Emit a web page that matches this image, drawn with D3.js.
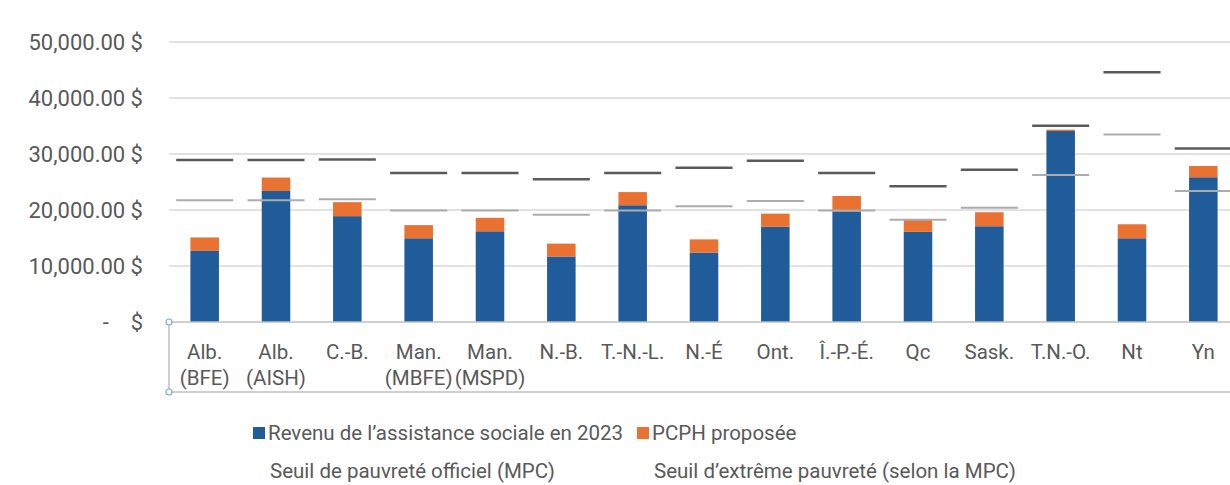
<!DOCTYPE html>
<html>
<head>
<meta charset="utf-8">
<script src="https://cdn.jsdelivr.net/npm/d3@7/dist/d3.min.js"></script>
<style>
  html, body { margin: 0; padding: 0; background: #fff; overflow: hidden; }
  svg { display: block; font-family: Roboto, "Noto Sans", sans-serif; }
</style>
</head>
<body>
<svg id="chart" width="1230" height="485"></svg>
<script>
const categories = [
  ["Alb.", "(BFE)"], ["Alb.", "(AISH)"], ["C.-B."], ["Man.", "(MBFE)"], ["Man.", "(MSPD)"],
  ["N.-B."], ["T.-N.-L."], ["N.-É"], ["Ont."], ["Î.-P.-É."], ["Qc"], ["Sask."], ["T.N.-O."], ["Nt"], ["Yn"]
];
const assistance2023 = [12700, 23400, 18900, 14950, 16200, 11700, 20850, 12400, 17000, 19750, 16100, 17100, 34100, 14950, 25850];
const pcph = [2400, 2400, 2500, 2350, 2400, 2300, 2350, 2350, 2350, 2750, 2300, 2500, 250, 2500, 2000];
const seuilOfficiel = [28950, 28950, 29000, 26600, 26600, 25500, 26600, 27550, 28800, 26600, 24250, 27200, 35050, 44600, 31000];
const seuilExtreme = [21750, 21750, 21900, 19900, 19900, 19150, 19900, 20650, 21600, 19900, 18250, 20400, 26250, 33500, 23400];
const yTicks = [0, 10000, 20000, 30000, 40000, 50000];
const legendBars = ["Revenu de l’assistance sociale en 2023", "PCPH proposée"];
const legendLines = ["Seuil de pauvreté officiel (MPC)", "Seuil d’extrême pauvreté (selon la MPC)"];

const colBlue = "#1f5c99", colOrange = "#e97132", colDark = "#5a5a5a", colLight = "#acacac";
const textCol = "#595959";

const svg = d3.select("#chart");
const pLeft = 169, pRight = 1239, pTop = 42, pBottom = 322;

const x = d3.scaleBand().domain(d3.range(categories.length)).range([pLeft, pRight]).paddingInner(0.6).paddingOuter(0.3);
const y = d3.scaleLinear().domain([0, 50000]).range([pBottom, pTop]);

// gridlines
svg.append("g").selectAll("line").data(yTicks.filter(d => d > 0)).join("line")
  .attr("x1", pLeft).attr("x2", 1230)
  .attr("y1", d => y(d)).attr("y2", d => y(d))
  .attr("stroke", "#d9d9d9").attr("stroke-width", 1.3);

// y tick labels
const fmt = d3.format(",.2f");
svg.append("g").selectAll("text").data(yTicks).join("text")
  .attr("x", 143).attr("y", d => y(d)).attr("dy", "0.35em")
  .attr("text-anchor", "end").attr("fill", textCol).attr("font-size", 22)
  .style("white-space", "pre")
  .text(d => d === 0 ? "-    $" : fmt(d) + " $");

// bars
const idx = d3.range(categories.length);
svg.append("g").selectAll("rect").data(idx).join("rect")
  .attr("x", i => x(i)).attr("width", x.bandwidth())
  .attr("y", i => y(assistance2023[i])).attr("height", i => y(0) - y(assistance2023[i]))
  .attr("fill", colBlue);
svg.append("g").selectAll("rect").data(idx).join("rect")
  .attr("x", i => x(i)).attr("width", x.bandwidth())
  .attr("y", i => y(assistance2023[i] + pcph[i])).attr("height", i => y(assistance2023[i]) - y(assistance2023[i] + pcph[i]))
  .attr("fill", colOrange);

// threshold lines
const half = x.step() * 0.4;
const cx = i => x(i) + x.bandwidth() / 2;
svg.append("g").selectAll("line").data(idx).join("line")
  .attr("x1", i => cx(i) - half).attr("x2", i => cx(i) + half)
  .attr("y1", i => y(seuilExtreme[i])).attr("y2", i => y(seuilExtreme[i]))
  .attr("stroke", colLight).attr("stroke-width", 2);
svg.append("g").selectAll("line").data(idx).join("line")
  .attr("x1", i => cx(i) - half).attr("x2", i => cx(i) + half)
  .attr("y1", i => y(seuilOfficiel[i])).attr("y2", i => y(seuilOfficiel[i]))
  .attr("stroke", colDark).attr("stroke-width", 2.5);

// axis box
const axCol = "#bfbfbf";
svg.append("line").attr("x1", pLeft).attr("x2", 1230).attr("y1", pBottom).attr("y2", pBottom).attr("stroke", axCol).attr("stroke-width", 1.5);
svg.append("line").attr("x1", pLeft).attr("x2", pLeft).attr("y1", pBottom).attr("y2", 392).attr("stroke", axCol).attr("stroke-width", 1.5);
svg.append("line").attr("x1", pLeft).attr("x2", 1230).attr("y1", 392).attr("y2", 392).attr("stroke", axCol).attr("stroke-width", 1.5);
[pBottom, 392].forEach(yy => svg.append("circle").attr("cx", pLeft).attr("cy", yy).attr("r", 3)
  .attr("fill", "#fff").attr("stroke", "#7fa7d6").attr("stroke-width", 1.2));

// category labels
const cat = svg.append("g").selectAll("text").data(idx).join("text")
  .attr("x", i => cx(i)).attr("y", 359)
  .attr("text-anchor", "middle").attr("fill", textCol).attr("font-size", 20.5);
cat.each(function(i) {
  const t = d3.select(this);
  categories[i].forEach((s, k) => t.append("tspan").attr("x", cx(i)).attr("dy", k === 0 ? 0 : 26).text(s));
});

// legend
const lg = svg.append("g").attr("font-size", 20.5).attr("fill", textCol);
const lx = [268, 652];
[colBlue, colOrange].forEach((c, k) => {
  lg.append("rect").attr("x", lx[k] - 15).attr("y", 427).attr("width", 12).attr("height", 12).attr("fill", c);
  lg.append("text").attr("x", lx[k]).attr("y", 440).text(legendBars[k]);
});
legendLines.forEach((s, k) => {
  lg.append("text").attr("x", lx[k] + 2).attr("y", 478).text(s);
});
</script>
</body>
</html>
